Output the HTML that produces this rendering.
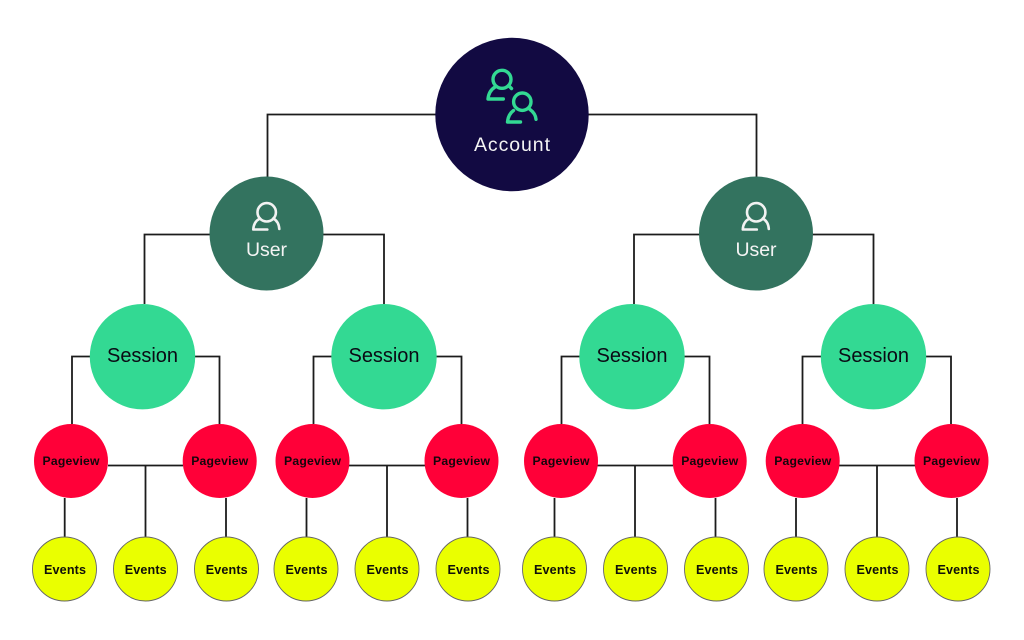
<!DOCTYPE html>
<html><head><meta charset="utf-8"><style>
html,body{margin:0;padding:0;background:#fff;width:1024px;height:640px;overflow:hidden}
svg{display:block}
text{font-family:"Liberation Sans",sans-serif;text-anchor:middle}
.l{fill:none;stroke:#1c1c1c;stroke-width:1.8}
.ac{fill:#120a42}.us{fill:#33735f}.se{fill:#33d993}.pv{fill:#ff0038}.ev{fill:#eaff00;stroke:#666;stroke-width:.9}
.w{fill:#f4f4f4;font-size:19.5px}
.b{fill:#0a0a14;font-size:20px}
.p{fill:#14060c;font-size:12.2px;font-weight:bold}
.e{fill:#10100a;font-size:12.6px;font-weight:bold}
.i{fill:none;stroke-linecap:round;stroke-linejoin:round}
</style></head><body>
<svg width="1024" height="640" viewBox="0 0 1024 640" xmlns="http://www.w3.org/2000/svg">
<g class="l">
<path d="M267.500 177V114.500H756.500V177"/>
<path d="M144.500 304V234.500H384V304"/>
<path d="M634 304V234.500H873.500V304"/>
<path d="M72 424V356.500H219.500V424"/>
<path d="M313.500 424V356.500H461.500V424"/>
<path d="M561.500 424V356.500H709.500V424"/>
<path d="M802.500 424V356.500H951V424"/>
<path d="M108 465.500H183M145.500 465.500V537M64.700 498V537M226 498V537"/>
<path d="M349 465.500H425M387 465.500V537M306.500 498V537M467.500 498V537"/>
<path d="M597 465.500H673M635 465.500V537M554.500 498V537M715.500 498V537"/>
<path d="M839 465.500H915M877 465.500V537M796 498V537M957 498V537"/>
</g>
<circle class="ac" cx="512" cy="114.500" r="76.700"/>
<circle class="us" cx="266.500" cy="233.500" r="57"/>
<circle class="us" cx="756" cy="233.500" r="57"/>
<circle class="se" cx="142.500" cy="356.700" r="52.700"/>
<circle class="se" cx="384" cy="356.700" r="52.700"/>
<circle class="se" cx="632" cy="356.700" r="52.700"/>
<circle class="se" cx="873.500" cy="356.700" r="52.700"/>
<g class="pv">
<circle cx="71" cy="461" r="37"/><circle cx="219.700" cy="461" r="37"/>
<circle cx="312.500" cy="461" r="37"/><circle cx="461.500" cy="461" r="37"/>
<circle cx="561" cy="461" r="37"/><circle cx="709.700" cy="461" r="37"/>
<circle cx="802.700" cy="461" r="37"/><circle cx="951.500" cy="461" r="37"/>
</g>
<g class="ev">
<circle cx="64.500" cy="569" r="32"/><circle cx="145.500" cy="569" r="32"/><circle cx="226.500" cy="569" r="32"/>
<circle cx="306" cy="569" r="32"/><circle cx="387" cy="569" r="32"/><circle cx="468" cy="569" r="32"/>
<circle cx="554.500" cy="569" r="32"/><circle cx="635.500" cy="569" r="32"/><circle cx="716.500" cy="569" r="32"/>
<circle cx="796" cy="569" r="32"/><circle cx="877" cy="569" r="32"/><circle cx="958" cy="569" r="32"/>
</g>
<g class="i" stroke="#33d993" stroke-width="3.400">
<circle cx="502" cy="79.300" r="9"/>
<path d="M508.500 85.500L511.500 88.500"/>
<path d="M503.300 99H488C488.500 93.500 491 89.500 495 87"/>
<circle cx="522.300" cy="101.700" r="8.700"/>
<path d="M520.500 122H507.500C508 117 510 113 513.500 110.500M530 109.500C533.500 112 535.700 115.500 536 119.300"/>
</g>
<g class="i" stroke="#f2f2f2" stroke-width="2.600">
<circle cx="266.700" cy="212.300" r="9.200"/>
<path d="M267.300 229.500H253.300C253.500 224.500 256 220.500 260 218.500M273.300 218.500C277 220.500 279 224.500 279.300 229"/>
<circle cx="756.200" cy="212.300" r="9.200"/>
<path d="M756.800 229.500H742.800C743 224.500 745.500 220.500 749.500 218.500M762.800 218.500C766.500 220.500 768.500 224.500 768.800 229"/>
</g>
<text class="w" x="512" y="151" textLength="76" lengthAdjust="spacing">Account</text>
<text class="w" x="266.500" y="256" textLength="41" lengthAdjust="spacing">User</text>
<text class="w" x="756" y="256" textLength="41" lengthAdjust="spacing">User</text>
<text class="b" x="142.500" y="362" textLength="71" lengthAdjust="spacing">Session</text>
<text class="b" x="384" y="362" textLength="71" lengthAdjust="spacing">Session</text>
<text class="b" x="632" y="362" textLength="71" lengthAdjust="spacing">Session</text>
<text class="b" x="873.500" y="362" textLength="71" lengthAdjust="spacing">Session</text>
<g class="p">
<text x="71" y="465" textLength="57" lengthAdjust="spacing">Pageview</text>
<text x="219.700" y="465" textLength="57" lengthAdjust="spacing">Pageview</text>
<text x="312.500" y="465" textLength="57" lengthAdjust="spacing">Pageview</text>
<text x="461.500" y="465" textLength="57" lengthAdjust="spacing">Pageview</text>
<text x="561" y="465" textLength="57" lengthAdjust="spacing">Pageview</text>
<text x="709.700" y="465" textLength="57" lengthAdjust="spacing">Pageview</text>
<text x="802.700" y="465" textLength="57" lengthAdjust="spacing">Pageview</text>
<text x="951.500" y="465" textLength="57" lengthAdjust="spacing">Pageview</text>
</g>
<g class="e">
<text x="65" y="574" textLength="42" lengthAdjust="spacing">Events</text>
<text x="145.700" y="574" textLength="42" lengthAdjust="spacing">Events</text>
<text x="226.700" y="574" textLength="42" lengthAdjust="spacing">Events</text>
<text x="306.500" y="574" textLength="42" lengthAdjust="spacing">Events</text>
<text x="387.500" y="574" textLength="42" lengthAdjust="spacing">Events</text>
<text x="468.500" y="574" textLength="42" lengthAdjust="spacing">Events</text>
<text x="555" y="574" textLength="42" lengthAdjust="spacing">Events</text>
<text x="636" y="574" textLength="42" lengthAdjust="spacing">Events</text>
<text x="717" y="574" textLength="42" lengthAdjust="spacing">Events</text>
<text x="796.500" y="574" textLength="42" lengthAdjust="spacing">Events</text>
<text x="877.500" y="574" textLength="42" lengthAdjust="spacing">Events</text>
<text x="958.500" y="574" textLength="42" lengthAdjust="spacing">Events</text>
</g>
</svg>
</body></html>
